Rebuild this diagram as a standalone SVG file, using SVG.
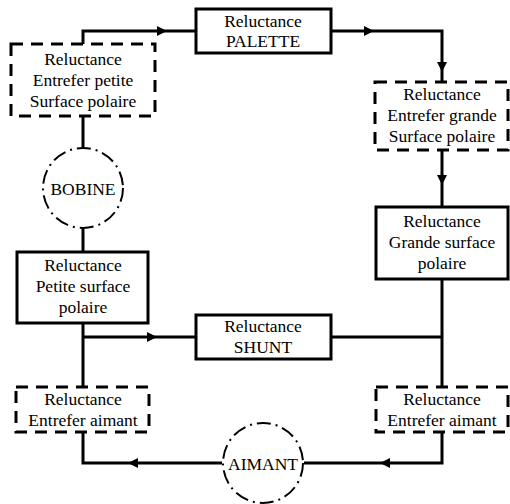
<svg xmlns="http://www.w3.org/2000/svg" width="510" height="504" viewBox="0 0 510 504" font-family="Liberation Serif, DejaVu Serif, Times New Roman, serif">
<defs>
<style>
.bg{fill:#fff}
.solid{fill:#fff;stroke:#000;stroke-width:3}
.dash{fill:#fff;stroke:#000;stroke-width:3;stroke-dasharray:12 8}
.circ{fill:#fff;stroke:#000;stroke-width:2;stroke-dasharray:14 5 2 5}
.wire{fill:none;stroke:#000;stroke-width:3}
text{font-size:17.5px;fill:#000;text-anchor:middle}
.arrow{fill:#000}
</style>
</defs>
<rect class="bg" x="0" y="0" width="510" height="504"/>
<g id="connectors">
<path class="wire" d="M83,44 V31 H196"/>
<path class="wire" d="M331,31 H442 V82"/>
<path class="wire" d="M442,150 V207"/>
<path class="wire" d="M442,279 V387"/>
<path class="wire" d="M331,337 H442"/>
<path class="wire" d="M83,116 V148"/>
<path class="wire" d="M83,228 V252"/>
<path class="wire" d="M83,323 V387"/>
<path class="wire" d="M83,337 H196"/>
<path class="wire" d="M83,432 V463 H222"/>
<path class="wire" d="M442,432 V463 H304"/>
<polygon class="arrow" points="157,26 167,31 157,36"/>
<polygon class="arrow" points="364,26 374,31 364,36"/>
<polygon class="arrow" points="437,62 447,62 442,72"/>
<polygon class="arrow" points="437,175 447,175 442,185"/>
<polygon class="arrow" points="147,332 157,337 147,342"/>
<polygon class="arrow" points="138,458 128,463 138,468"/>
<polygon class="arrow" points="390,458 380,463 390,468"/>
</g>
<g id="palette">
<rect class="solid" x="196" y="9" width="135" height="44"/>
<text x="263" y="27">Reluctance</text>
<text x="263" y="47">PALETTE</text>
</g>
<g id="entrefer-petite">
<rect class="dash" x="11" y="44" width="144" height="72"/>
<text x="83" y="65">Reluctance</text>
<text x="83" y="86">Entrefer petite</text>
<text x="83" y="107">Surface polaire</text>
</g>
<g id="entrefer-grande">
<rect class="dash" x="375" y="82" width="133" height="68"/>
<text x="442" y="100">Reluctance</text>
<text x="442" y="121">Entrefer grande</text>
<text x="442" y="142">Surface polaire</text>
</g>
<g id="bobine">
<circle class="circ" cx="83" cy="188" r="40"/>
<text x="83" y="195">BOBINE</text>
</g>
<g id="petite-surface">
<rect class="solid" x="17" y="252" width="131" height="71"/>
<text x="83" y="271">Reluctance</text>
<text x="83" y="292">Petite surface</text>
<text x="83" y="313">polaire</text>
</g>
<g id="grande-surface">
<rect class="solid" x="376" y="207" width="132" height="72"/>
<text x="442" y="227">Reluctance</text>
<text x="442" y="248">Grande surface</text>
<text x="442" y="269">polaire</text>
</g>
<g id="shunt">
<rect class="solid" x="196" y="315" width="135" height="44"/>
<text x="263" y="332">Reluctance</text>
<text x="263" y="353">SHUNT</text>
</g>
<g id="entrefer-aimant-gauche">
<rect class="dash" x="16" y="387" width="133" height="45"/>
<text x="83" y="405">Reluctance</text>
<text x="83" y="426">Entrefer aimant</text>
</g>
<g id="entrefer-aimant-droite">
<rect class="dash" x="376" y="387" width="132" height="45"/>
<text x="442" y="405">Reluctance</text>
<text x="442" y="426">Entrefer aimant</text>
</g>
<g id="aimant">
<circle class="circ" cx="263" cy="463" r="40"/>
<text x="263" y="470">AIMANT</text>
</g>
</svg>
